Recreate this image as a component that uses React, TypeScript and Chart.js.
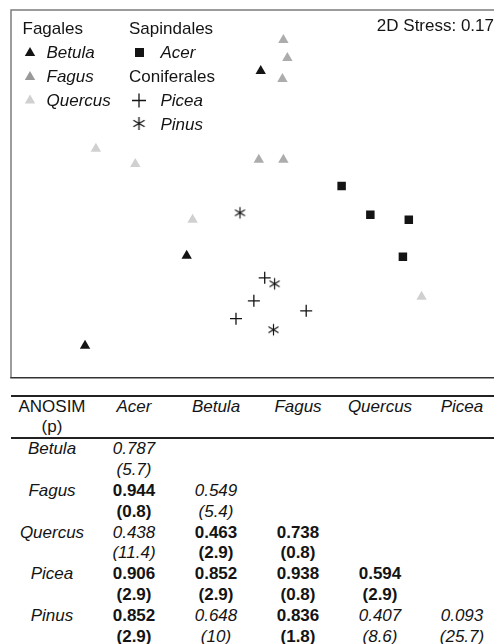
import React, { useEffect, useRef } from "react";
import { Chart, registerables } from "chart.js";
Chart.register(...registerables);

// NMDS coordinates
const betula = [[0.065, 0.668], [-0.399, -0.337], [-1.036, -0.826]];
const fagus = [[0.207, 0.837], [0.232, 0.739], [0.201, 0.625], [0.053, 0.185], [0.207, 0.185]];
const quercus = [[-0.968, 0.245], [-0.721, 0.163], [-0.362, -0.141], [1.073, -0.56]];
const acer = [[0.572, 0.043], [0.752, -0.114], [0.993, -0.141], [0.956, -0.342]];
const picea = [[0.09, -0.457], [0.022, -0.582], [-0.09, -0.679], [0.35, -0.636]];
const pinus = [[-0.065, -0.103], [0.152, -0.489], [0.145, -0.739]];
const stressLabel = "2D Stress: 0.17";

// ANOSIM table
const tableCols = ["Acer", "Betula", "Fagus", "Quercus", "Picea"];
const tableRows = ["Betula", "Fagus", "Quercus", "Picea", "Pinus"];
const rValues = [
  ["0.787"],
  ["0.944", "0.549"],
  ["0.438", "0.463", "0.738"],
  ["0.906", "0.852", "0.938", "0.594"],
  ["0.852", "0.648", "0.836", "0.407", "0.093"],
];
const pValues = [
  ["5.7"],
  ["0.8", "5.4"],
  ["11.4", "2.9", "0.8"],
  ["2.9", "2.9", "0.8", "2.9"],
  ["2.9", "10", "1.8", "8.6", "25.7"],
];
const significant = [
  [false],
  [true, false],
  [false, true, true],
  [true, true, true, true],
  [true, false, true, false, false],
];

const FONT = '"Liberation Sans", Arial, Helvetica, sans-serif';
const BLACK = "#141414";
const FAGUS_C = "#acacac";
const QUERCUS_C = "#d0d0d0";

function makeAsterisk(r: number, color: string, lw: number) {
  const s = 15;
  const c = document.createElement("canvas");
  c.width = s;
  c.height = s;
  const ctx = c.getContext("2d")!;
  ctx.strokeStyle = color;
  ctx.lineWidth = lw;
  const cx = s / 2, cy = s / 2;
  for (const a of [90, 30, 150]) {
    const rad = (a * Math.PI) / 180;
    ctx.beginPath();
    ctx.moveTo(cx - Math.cos(rad) * r, cy - Math.sin(rad) * r);
    ctx.lineTo(cx + Math.cos(rad) * r, cy + Math.sin(rad) * r);
    ctx.stroke();
  }
  return c;
}

function tri(ctx: CanvasRenderingContext2D, x: number, y: number, r: number, color: string) {
  ctx.fillStyle = color;
  ctx.beginPath();
  for (let k = 0; k < 3; k++) {
    const a = (k * 2 * Math.PI) / 3;
    const px = x + Math.sin(a) * r;
    const py = y - Math.cos(a) * r;
    if (k === 0) ctx.moveTo(px, py);
    else ctx.lineTo(px, py);
  }
  ctx.closePath();
  ctx.fill();
}

const pts = (arr: number[][]) => arr.map(([x, y]) => ({ x, y }));

export default function App() {
  const ref = useRef<HTMLCanvasElement>(null);

  useEffect(() => {
    if (!ref.current) return;
    const ast = makeAsterisk(5.8, BLACK, 1.2);

    const decor = {
      id: "decor",
      afterDatasetsDraw(chart: any) {
        const ctx: CanvasRenderingContext2D = chart.ctx;
        const { left, top, bottom, right } = chart.chartArea;
        ctx.save();
        ctx.lineWidth = 1.5;
        ctx.strokeStyle = "#7c7c7c";
        ctx.beginPath();
        ctx.moveTo(left, bottom);
        ctx.lineTo(left, top);
        ctx.lineTo(right + 6, top);
        ctx.stroke();
        ctx.strokeStyle = "#333";
        ctx.beginPath();
        ctx.moveTo(left - 0.75, bottom);
        ctx.lineTo(right + 6, bottom);
        ctx.stroke();

        // legend
        ctx.fillStyle = BLACK;
        ctx.textBaseline = "alphabetic";
        ctx.textAlign = "left";
        const normal = `17px ${FONT}`;
        const ital = `italic 17px ${FONT}`;
        ctx.font = normal;
        ctx.fillText("Fagales", 22.5, 33.5);
        ctx.fillText("Sapindales", 129, 33.5);
        ctx.fillText("Coniferales", 129, 81.5);
        ctx.font = ital;
        ctx.fillText("Betula", 46.5, 57.5);
        ctx.fillText("Fagus", 46.5, 81.5);
        ctx.fillText("Quercus", 46.5, 105.5);
        ctx.fillText("Acer", 160.5, 57.5);
        ctx.fillText("Picea", 160.5, 105.5);
        ctx.fillText("Pinus", 160.5, 129.5);
        tri(ctx, 30, 53, 6, BLACK);
        tri(ctx, 30, 77, 6, "#999");
        tri(ctx, 30, 100.5, 6, QUERCUS_C);
        ctx.fillStyle = BLACK;
        ctx.fillRect(135, 48, 9, 9);
        ctx.strokeStyle = BLACK;
        ctx.lineWidth = 1.3;
        ctx.beginPath();
        ctx.moveTo(132, 100.5);
        ctx.lineTo(146, 100.5);
        ctx.moveTo(139, 93.5);
        ctx.lineTo(139, 107.5);
        ctx.stroke();
        const big = makeAsterisk(6.5, BLACK, 1.3);
        ctx.drawImage(big, 139 - 7.5, 123.5 - 7.5);

        ctx.fillStyle = BLACK;
        ctx.font = normal;
        ctx.textAlign = "right";
        ctx.fillText(stressLabel, 494, 30.5);
        ctx.restore();
      },
    };

    const chart = new Chart(ref.current, {
      type: "scatter",
      data: {
        datasets: [
          { label: "Betula", data: pts(betula), pointStyle: "triangle", pointRadius: 6, backgroundColor: BLACK, borderWidth: 0 },
          { label: "Fagus", data: pts(fagus), pointStyle: "triangle", pointRadius: 6, backgroundColor: FAGUS_C, borderWidth: 0 },
          { label: "Quercus", data: pts(quercus), pointStyle: "triangle", pointRadius: 6, backgroundColor: QUERCUS_C, borderWidth: 0 },
          { label: "Acer", data: pts(acer), pointStyle: "rect", pointRadius: 6, backgroundColor: BLACK, borderWidth: 0 },
          { label: "Picea", data: pts(picea), pointStyle: "cross", pointRadius: 6, borderColor: BLACK, backgroundColor: BLACK, borderWidth: 1.3 },
          { label: "Pinus", data: pts(pinus), pointStyle: ast as any, pointRadius: 6, borderColor: BLACK, backgroundColor: BLACK, borderWidth: 1 },
        ],
      },
      options: {
        animation: false,
        responsive: false,
        devicePixelRatio: 1,
        layout: { padding: { left: 11, top: 10, right: 1, bottom: 7 } },
        scales: {
          x: { type: "linear", min: -1.5, max: 1.5, display: false },
          y: { type: "linear", min: -1, max: 1, display: false },
        },
        plugins: { legend: { display: false }, tooltip: { enabled: false } },
      },
      plugins: [decor],
    });
    return () => chart.destroy();
  }, []);

  const cellBase: React.CSSProperties = {
    padding: 0,
    textAlign: "center",
    verticalAlign: "top",
    lineHeight: "20.8px",
  };
  const thStyle: React.CSSProperties = {
    ...cellBase,
    lineHeight: "20.2px",
    fontWeight: "normal",
    borderTop: "2px solid #222",
    borderBottom: "2px solid #222",
  };

  return (
    <div
      style={{
        position: "fixed",
        left: 0,
        top: 0,
        width: 494,
        height: 644,
        overflow: "hidden",
        background: "#fff",
        fontFamily: FONT,
        color: BLACK,
      }}
    >
      <canvas ref={ref} width={497} height={385} style={{ position: "absolute", left: 0, top: 0, width: 497, height: 385 }} />
      <table
        style={{
          position: "absolute",
          left: 11,
          top: 395,
          width: 492,
          borderCollapse: "separate",
          borderSpacing: 0,
          tableLayout: "fixed",
          fontSize: 17,
          color: BLACK,
          fontFamily: FONT,
        }}
      >
        <colgroup>
          {[0, 1, 2, 3, 4, 5].map((i) => (
            <col key={i} style={{ width: 82 }} />
          ))}
        </colgroup>
        <thead>
          <tr>
            <th style={thStyle}>
              ANOSIM
              <br />
              (p)
            </th>
            {tableCols.map((c) => (
              <th key={c} style={{ ...thStyle, fontStyle: "italic" }}>
                {c}
              </th>
            ))}
          </tr>
        </thead>
        <tbody>
          {tableRows.map((r, i) => (
            <tr key={r}>
              <td style={{ ...cellBase, fontStyle: "italic" }}>{r}</td>
              {tableCols.map((c, j) => {
                if (j > i) return <td key={c} style={cellBase}></td>;
                const sig = significant[i][j];
                return (
                  <td
                    key={c}
                    style={{ ...cellBase, fontWeight: sig ? "bold" : "normal", fontStyle: sig ? "normal" : "italic" }}
                  >
                    {rValues[i][j]}
                    <br />({pValues[i][j]})
                  </td>
                );
              })}
            </tr>
          ))}
        </tbody>
      </table>
    </div>
  );
}
